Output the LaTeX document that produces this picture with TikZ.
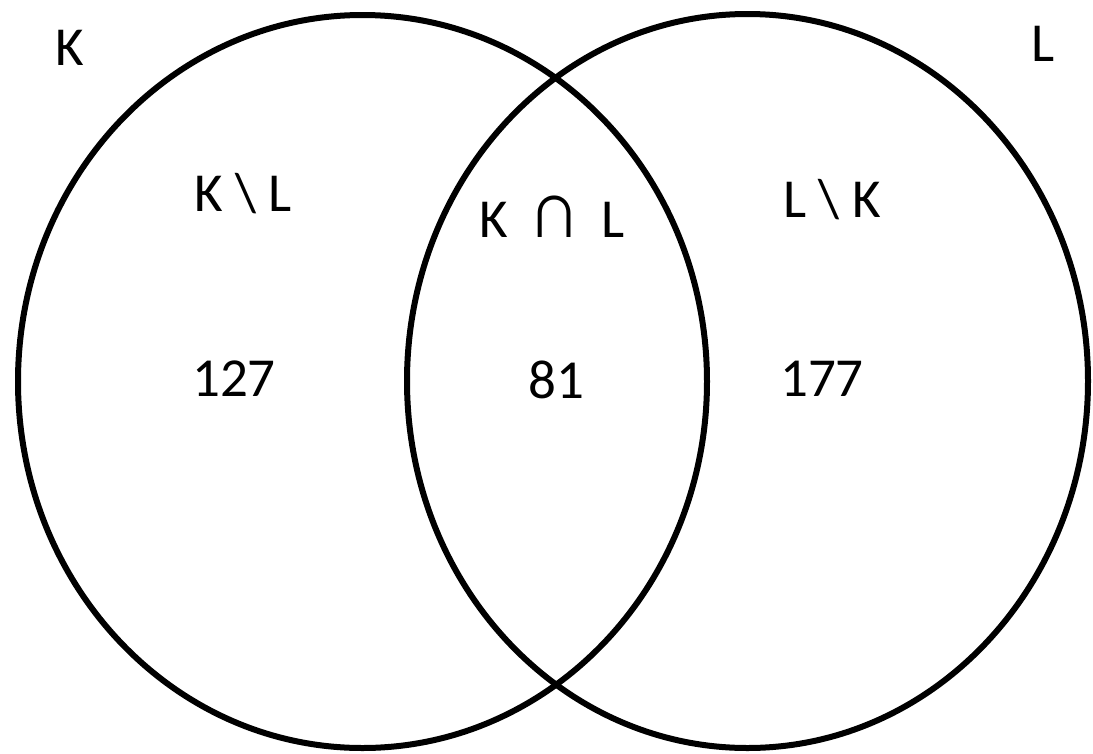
\documentclass[tikz,border=0pt]{standalone}
\usepackage{fontspec}
\usepackage{graphicx}
\setmainfont{Carlito}
\begin{document}
\begin{tikzpicture}[x=1pt,y=-1pt,
  setline/.style={draw=black,line width=6pt},
  lbl/.style={inner sep=0pt,anchor=center,font=\fontsize{55}{62}\selectfont}]
\useasboundingbox (0,0) rectangle (1093,753);
\draw[setline] (362.5,381.5) ellipse [x radius=344.5, y radius=366.5];
\draw[setline] (747.5,381) ellipse [x radius=340.5, y radius=367];
\node[lbl] (kname) at (70,48) {K};
\node[lbl] (lname) at (1043,44) {L};
\node[lbl] (kminus) at (243,194) {K \textbackslash{} L};
\node[lbl] (kcap) at (552,217) {K\, \raisebox{0pt}{\scalebox{1.3}[1.45]{∩}}\, L};
\node[lbl] (lminus) at (832,200) {L \textbackslash{} K};
\node[lbl] (n1) at (234,379) {127};
\node[lbl] (n2) at (556,380) {81};
\node[lbl] (n3) at (822,379) {177};
\end{tikzpicture}
\end{document}
